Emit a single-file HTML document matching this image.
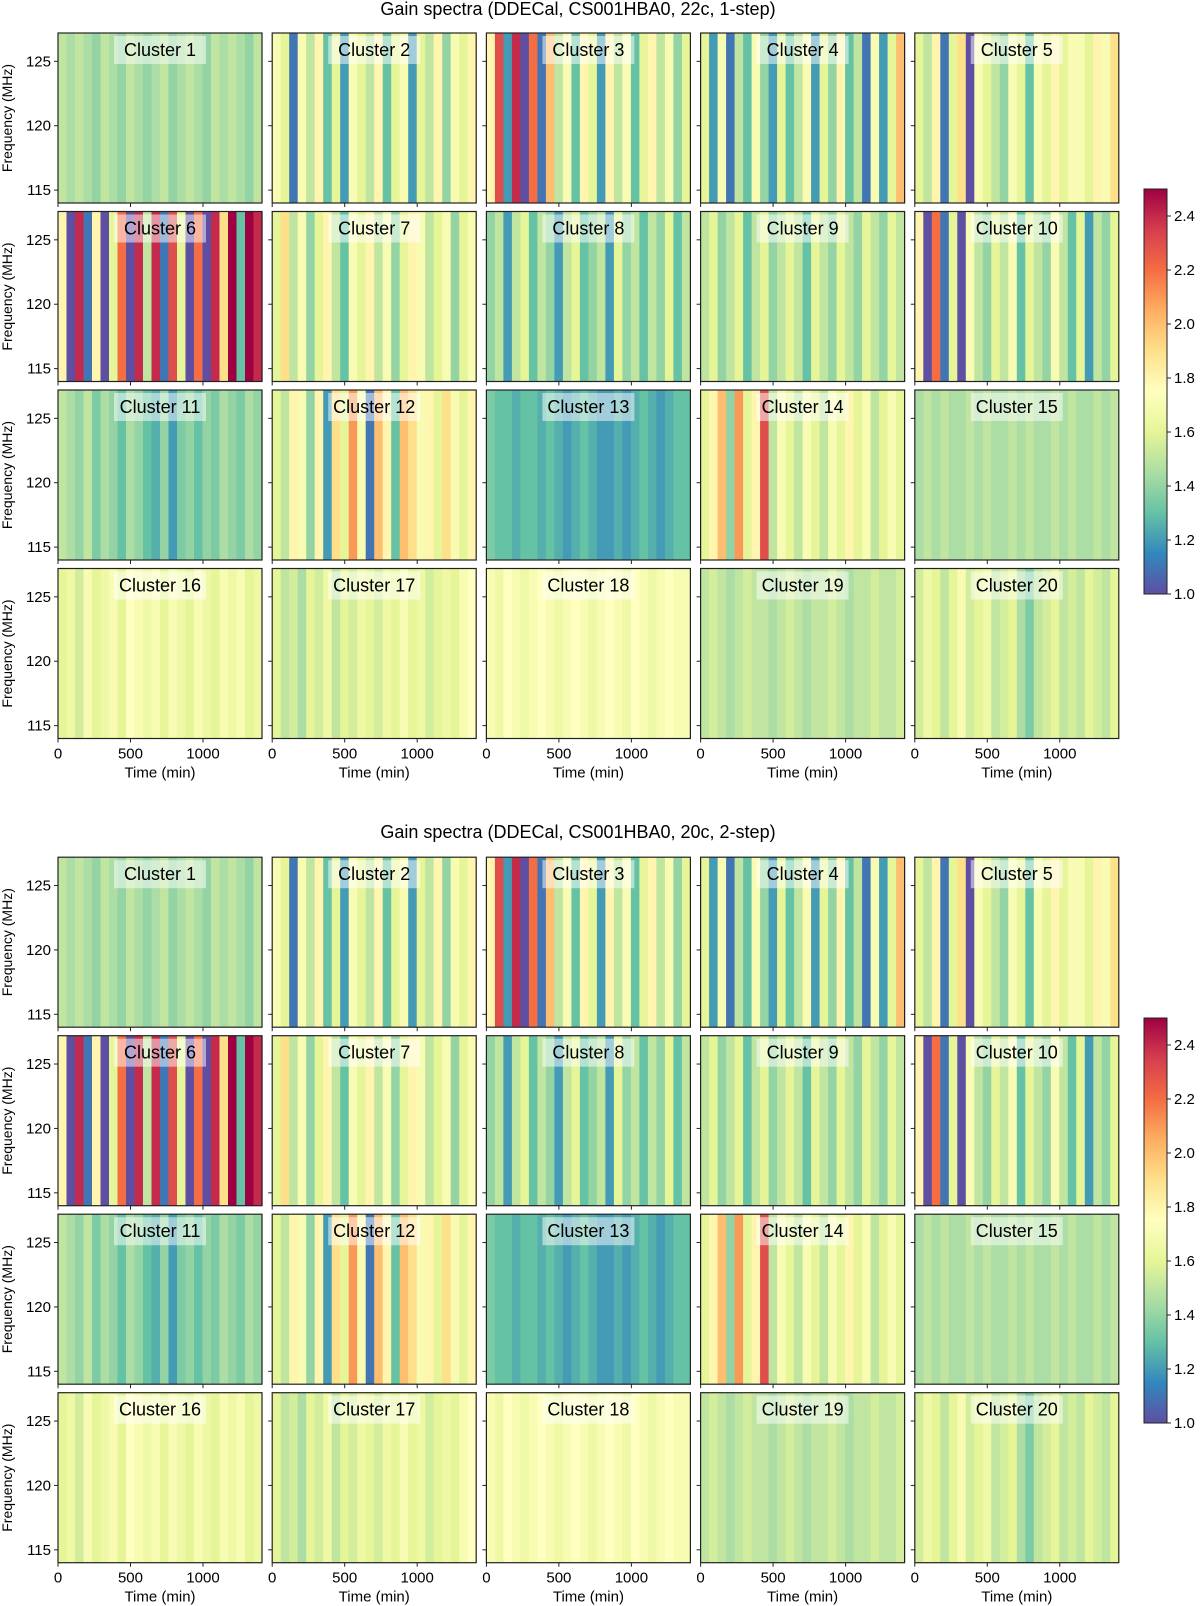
<!DOCTYPE html>
<html><head><meta charset="utf-8"><style>
body{margin:0;background:#fff;}
svg{display:block;font-family:"Liberation Sans","DejaVu Sans",sans-serif;}
</style></head><body>
<svg id="chart" width="1200" height="1606" viewBox="0 0 1200 1606" xmlns="http://www.w3.org/2000/svg"></svg>
<script>
// Per-cluster gain values by time column (left to right)
const c1=[1.5,1.45,1.5,1.45,1.4,1.5,1.45,1.4,1.5,1.45,1.4,1.45,1.5,1.4,1.45,1.5,1.45,1.4,1.5,1.45,1.5,1.45,1.4,1.5];
const c2=[1.7,1.6,1.1,1.7,1.5,1.8,1.3,1.6,1.2,1.7,1.6,1.5,1.8,1.3,1.6,1.7,1.2,1.6,1.5,1.8,1.4,1.7,1.6,1.8];
const c3=[1.8,2.3,1.2,2.4,1.0,2.2,1.1,2.0,1.5,1.7,1.3,1.8,1.6,1.2,1.8,1.5,1.7,1.3,1.6,1.8,1.5,1.7,1.4,1.6];
const c4=[1.6,1.2,1.7,1.1,1.5,1.3,1.7,1.4,1.2,1.6,1.3,1.5,1.7,1.2,1.6,1.4,1.8,1.3,1.5,1.1,1.7,1.2,1.6,2.0];
const c5=[1.6,1.5,1.8,1.1,1.6,1.9,1.0,1.7,1.6,1.5,1.4,1.7,1.6,1.3,1.7,1.6,1.8,1.6,1.7,1.7,1.6,1.8,1.7,1.9];
const c6=[1.8,1.0,2.4,1.1,1.8,1.0,1.6,2.2,1.0,2.4,1.5,2.4,1.1,2.3,1.6,1.0,2.2,1.0,2.4,1.9,2.5,1.3,2.5,2.4];
const c7=[1.6,1.9,1.5,1.7,1.4,1.6,1.8,1.5,1.3,1.7,1.6,1.8,1.5,1.7,1.4,1.6,1.8,1.7,1.5,1.6,1.7,1.4,1.6,1.7];
const c8=[1.4,1.5,1.2,1.5,1.6,1.3,1.5,1.4,1.2,1.5,1.6,1.3,1.4,1.5,1.2,1.6,1.4,1.5,1.3,1.5,1.4,1.6,1.3,1.5];
const c9=[1.5,1.6,1.4,1.5,1.6,1.3,1.5,1.6,1.4,1.5,1.6,1.5,1.3,1.6,1.5,1.4,1.6,1.5,1.4,1.6,1.5,1.4,1.6,1.5];
const c10=[1.8,1.0,2.2,1.1,1.6,1.0,1.7,1.5,1.4,1.6,1.5,1.7,1.3,1.6,1.5,1.4,1.7,1.5,1.3,1.6,1.2,1.5,1.4,1.6];
const c11=[1.5,1.45,1.4,1.5,1.35,1.45,1.4,1.3,1.45,1.4,1.3,1.25,1.4,1.2,1.35,1.4,1.3,1.4,1.35,1.45,1.4,1.35,1.45,1.4];
const c12=[1.6,1.5,1.8,1.7,1.4,1.8,1.2,1.9,1.6,2.1,1.7,1.1,2.0,1.8,1.3,2.0,1.9,1.7,1.8,1.6,1.9,1.7,1.6,1.8];
const c13=[1.35,1.3,1.3,1.25,1.3,1.3,1.25,1.3,1.25,1.2,1.25,1.3,1.25,1.2,1.2,1.25,1.2,1.25,1.3,1.25,1.2,1.25,1.3,1.3];
const c14=[1.6,1.8,2.0,1.4,2.1,1.6,1.8,2.3,1.5,1.7,1.6,1.5,1.7,1.6,1.5,1.7,1.6,1.8,1.6,1.7,1.5,1.6,1.7,1.6];
const c15=[1.45,1.5,1.45,1.5,1.45,1.45,1.5,1.45,1.5,1.45,1.45,1.5,1.45,1.5,1.45,1.45,1.5,1.45,1.5,1.45,1.45,1.5,1.45,1.5];
const c16=[1.6,1.65,1.55,1.7,1.6,1.65,1.7,1.6,1.75,1.7,1.65,1.7,1.6,1.7,1.65,1.6,1.7,1.65,1.6,1.7,1.65,1.7,1.6,1.65];
const c17=[1.6,1.5,1.55,1.45,1.6,1.55,1.65,1.5,1.6,1.55,1.65,1.6,1.55,1.65,1.6,1.7,1.6,1.65,1.55,1.6,1.65,1.6,1.7,1.75];
const c18=[1.7,1.65,1.75,1.7,1.65,1.7,1.75,1.7,1.65,1.7,1.75,1.7,1.65,1.7,1.75,1.7,1.65,1.75,1.7,1.65,1.7,1.75,1.7,1.7];
const c19=[1.5,1.55,1.5,1.45,1.5,1.55,1.5,1.5,1.45,1.5,1.55,1.5,1.45,1.5,1.5,1.55,1.5,1.45,1.5,1.5,1.55,1.5,1.5,1.55];
const c20=[1.55,1.65,1.6,1.5,1.6,1.7,1.55,1.6,1.65,1.5,1.55,1.6,1.45,1.35,1.5,1.55,1.6,1.5,1.55,1.5,1.6,1.55,1.5,1.6];
const clusters=[c1,c2,c3,c4,c5,c6,c7,c8,c9,c10,c11,c12,c13,c14,c15,c16,c17,c18,c19,c20];
const figTitles=["Gain spectra (DDECal, CS001HBA0, 22c, 1-step)","Gain spectra (DDECal, CS001HBA0, 20c, 2-step)"];
const xTicks=[0,500,1000];
const yTicks=[115,120,125];
const cbTicks=[1.0,1.2,1.4,1.6,1.8,2.0,2.2,2.4];
const tMax=1407, fMin=114, fMax=127.2, vMin=1.0, vMax=2.5;

const stops=["#5e4fa2","#3288bd","#66c2a5","#abdda4","#e6f598","#ffffbf","#fee08b","#fdae61","#f46d43","#d53e4f","#9e0142"];
function hex(h){return [1,3,5].map(i=>parseInt(h.substr(i,2),16));}
function cmap(v){let t=Math.max(0,Math.min(1,(v-vMin)/(vMax-vMin)))*10;let i=Math.min(9,Math.floor(t)),f=t-i;
 const a=hex(stops[i]),b=hex(stops[i+1]);return `rgb(${a.map((x,k)=>Math.round(x+(b[k]-x)*f)).join(',')})`;}
const NS="http://www.w3.org/2000/svg";
const svg=document.getElementById('chart');
function mk(tag,attrs,parent){const e=document.createElementNS(NS,tag);for(const k in attrs)e.setAttribute(k,attrs[k]);(parent||svg).appendChild(e);return e;}
const defs=mk('defs',{});
const grad=mk('linearGradient',{id:'cbgrad',x1:0,y1:1,x2:0,y2:0},defs);
stops.forEach((s,i)=>mk('stop',{offset:(i/10),'stop-color':s},grad));

const colX0=58,colPitch=214.2,pw=204,rowPitch=178.5,ph=170;
const figY=[33,857.2], cbTop=[189,1018], titleY=[15,838];
for(let f=0;f<2;f++){
 const t=mk('text',{x:578,y:titleY[f],'text-anchor':'middle','font-size':18});
 t.textContent=figTitles[f];
 
 
 clusters.forEach((vals,ci)=>{
  const r=Math.floor(ci/5),c=ci%5;
  const x0=colX0+c*colPitch,y0=figY[f]+r*rowPitch;
  const g=mk('g',{});
  
  
  const xs=v=>x0+v/tMax*pw, ys=v=>y0+(fMax-v)/(fMax-fMin)*ph;
  const n=vals.length;
  vals.forEach((v,k)=>{
   const cell=mk('rect',{x:xs(k*tMax/n),y:y0,width:pw/n+0.6,height:ph,fill:cmap(v)},g);
   
   
  });
  mk('rect',{x:x0,y:y0,width:pw,height:ph,fill:'none',stroke:'#222','stroke-width':1.2},g);
  const lb=mk('rect',{x:x0+pw/2-46,y:y0+3,width:92,height:28,fill:'#fff','fill-opacity':0.5},g);
  
  
  const lt=mk('text',{x:x0+pw/2,y:y0+23,'text-anchor':'middle','font-size':18},g);
  lt.textContent='Cluster '+(ci+1);
  
  
  yTicks.forEach(v=>{const y=ys(v);mk('line',{x1:x0-4,x2:x0,y1:y,y2:y,stroke:'#222'},g);
   if(c===0){const tt=mk('text',{x:x0-7,y:y+5,'text-anchor':'end','font-size':15},g);tt.textContent=v;
    }});
  xTicks.forEach(v=>{const x=xs(v);mk('line',{x1:x,x2:x,y1:y0+ph,y2:y0+ph+4,stroke:'#222'},g);
   if(r===3){const tt=mk('text',{x:x,y:y0+ph+20,'text-anchor':'middle','font-size':15},g);tt.textContent=v;
    }});
  if(c===0){const yl=mk('text',{transform:`translate(12,${y0+ph/2}) rotate(-90)`,'text-anchor':'middle','font-size':14},g);
   yl.textContent='Frequency (MHz)';}
  if(r===3){const xl=mk('text',{x:x0+pw/2,y:y0+ph+39,'text-anchor':'middle','font-size':15},g);
   xl.textContent='Time (min)';}
 });
 const cb=mk('g',{});
 
 
 const ch=405,cy=cbTop[f];
 mk('rect',{x:1144,y:cy,width:23,height:ch,fill:'url(#cbgrad)',stroke:'#222','stroke-width':1},cb);
 cbTicks.forEach(v=>{const y=cy+(vMax-v)/(vMax-vMin)*ch;mk('line',{x1:1167,x2:1171,y1:y,y2:y,stroke:'#222'},cb);
  const tt=mk('text',{x:1174,y:y+5,'font-size':15},cb);tt.textContent=v.toFixed(1);
  });
}
</script>
</body></html>
